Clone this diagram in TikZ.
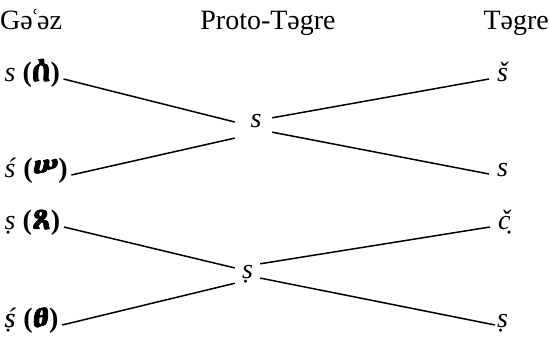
\documentclass[tikz,border=0pt]{standalone}
\usepackage{fontspec}
\setmainfont{Liberation Serif}
\newfontfamily\ethfont{Abyssinica SIL}[AutoFakeBold=2.5, Scale=1.2]
\newcommand\ethp[1]{\textbf{(}{\ethfont\bfseries #1}\textbf{)}}
\begin{document}
\begin{tikzpicture}[x=1pt,y=-1pt,
  font=\fontsize{28}{32}\selectfont,
  hdr/.style={inner sep=0pt},
  lbl/.style={anchor=west, inner xsep=3.5pt, inner ysep=0pt, text height=1ex, text depth=0pt},
  rgt/.style={anchor=west, inner xsep=8pt, inner ysep=0pt, text height=1ex, text depth=0pt},
  mid/.style={inner sep=0pt, text height=1ex, text depth=0pt},
  edge/.style={line width=1.5pt}]
\useasboundingbox (0,0) rectangle (549,342);
% headers
\node[hdr, anchor=base west] (h1) at (0,30) {Gə\kern-2.5ptʿ\kern-2.5ptəz};
\node[hdr, anchor=base] (h2) at (268,30) {Proto-Təgre};
\node[hdr, anchor=base east] (h3) at (549,30) {Təgre};
% left column
\node[lbl] (l1) at (1,79) {\textit{s} \ethp{ሰ}};
\node[lbl] (l2) at (1,175) {\textit{ś} \ethp{ሠ}};
\node[lbl] (l3) at (1,227) {\textit{ṣ} \ethp{ጸ}};
\node[lbl] (l4) at (1,325) {\textit{\rlap{ṣ}ś} \ethp{ፀ}};
% middle column
\node[mid, minimum width=37pt, minimum height=28pt] (m1) at (253.5,125) {\hspace*{5pt}\textit{s}};
\node[mid, minimum width=25pt, minimum height=26pt] (m2) at (247.5,276.5) {\textit{ṣ}};
% right column
\node[rgt] (r1) at (489,79) {\textit{š}};
\node[rgt] (r2) at (489,174) {\textit{s}};
\node[rgt] (r3) at (490,227) {\textit{č̣}};
\node[rgt, inner xsep=2pt] (r4) at (495,325) {\textit{ṣ}};
% connectors
\draw[edge] (l1.east) -- (m1.171);
\draw[edge] (l2.east) -- (m1.215);
\draw[edge] (m1.21) -- (r1.west);
\draw[edge] (m1.339) -- (r2.west);
\draw[edge] (l3.east) -- (m2.146);
\draw[edge] (l4.east) -- (m2.208);
\draw[edge] (m2.45) -- (r3.west);
\draw[edge] (m2.353) -- (r4.west);
\end{tikzpicture}
\end{document}
